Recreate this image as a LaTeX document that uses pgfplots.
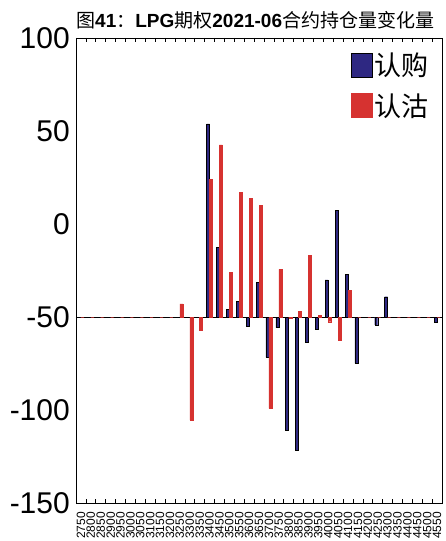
\documentclass[border=0pt]{standalone}
\usepackage{pgfplots}
\pgfplotsset{compat=1.18}
\usepackage{pgfplotstable}
\usetikzlibrary{calc}
\usepackage{fontspec}
\setmainfont{Liberation Sans}
\newfontfamily\cjk{Noto Sans CJK SC}
\definecolor{callblue}{RGB}{46,40,130}
\definecolor{putred}{RGB}{214,50,48}

\pgfplotstableread{
i call put
0 -50 -50
1 -50 -50
2 -50 -50
3 -50 -50
4 -50 -50
5 -50 -50
6 -50 -50
7 -50 -50
8 -50 -50
9 -50 -50
10 -50 -43
11 -50 -105.4
12 -50 -57
13 53.8 24
14 -12.7 42.5
15 -45.9 -26
16 -41.6 17.2
17 -55 13.8
18 -31.3 10.2
19 -71.7 -99.1
20 -55.7 -24.4
21 -111.1 -50.7
22 -121.5 -47
23 -63.8 -16.8
24 -56.6 -49
25 -30 -52.5
26 7.5 -62.4
27 -27 -35.5
28 -74.9 -50
29 -50 -50
30 -54.3 -50
31 -39.1 -50
32 -50 -50
33 -50 -50
34 -50 -50
35 -50 -50
36 -52.9 -50
}\oidata

\begin{document}
\begin{tikzpicture}
\begin{axis}[
  scale only axis,
  width=366pt, height=465pt,
  xmin=-0.5, xmax=36.5,
  ymin=-100, ymax=150,
  y filter/.expression={y+50},
  axis line style={black, line width=0.8pt},
  tick align=inside,
  major tick length=0pt,
  minor tick length=4pt,
  xtick={0,...,36},
  xticklabels={2750,2800,2850,2900,2950,3000,3050,3100,3150,3200,3250,3300,3350,3400,3450,3500,3550,3600,3650,3700,3750,3800,3850,3900,3950,4000,4050,4100,4150,4200,4250,4300,4350,4400,4450,4500,4550},
  minor xtick={-0.5,0.5,...,36.5},
  every minor tick/.append style={black, line width=0.6pt},
  xticklabel style={rotate=90, anchor=east, inner sep=0pt, font=\fontsize{12}{12}\selectfont},
  xticklabel shift=9pt,
  ytick={-100,-50,0,50,100,150},
  yticklabels={-150,-100,-50,0,50,100},
  yticklabel style={inner sep=0pt, font=\fontsize{30}{30}\selectfont},
  yticklabel shift=6pt,
  legend style={at={(0.751,0.972)}, anchor=north west, draw=none, fill=none,
    inner sep=0pt, row sep=12pt,
    nodes={inner sep=2pt, font=\cjk\fontsize{27}{27}\selectfont}},
  legend cell align=left,
]
\addplot[black, line width=0.8pt, forget plot] coordinates {(-0.5,-50) (36.5,-50)};
\addplot[ybar, bar width=3pt, bar shift=-1.5pt, fill=callblue, draw=black, line width=0.4pt,
  legend image code/.code={\draw[fill=callblue, draw=black, line width=0.6pt] (0pt,-12pt) rectangle (21pt,12pt);}]
  table[x=i, y=call] {\oidata};
\addlegendentry{认购}
\addplot[ybar, bar width=3pt, bar shift=1.5pt, fill=putred, draw=putred, line width=0.3pt,
  legend image code/.code={\fill[putred] (0pt,-12pt) rectangle (21pt,12pt);}]
  table[x=i, y=put] {\oidata};
\addlegendentry{认沽}
\coordinate (nw) at (rel axis cs:0,1);
\coordinate (se) at (rel axis cs:1,0);
\end{axis}
\node[anchor=base west, inner sep=0pt, font=\fontsize{19}{19}\selectfont] at ($(nw)+(0pt,10.5pt)$)
  {{\cjk 图}\textbf{41}{\cjk ：}\textbf{LPG}{\cjk 期权}\textbf{2021-06}{\cjk 合约持仓量变化量}};
\pgfresetboundingbox
\path[use as bounding box] ($(nw)+(-76pt,38pt)$) rectangle ($(se)+(4pt,-38pt)$);
\end{tikzpicture}
\end{document}
